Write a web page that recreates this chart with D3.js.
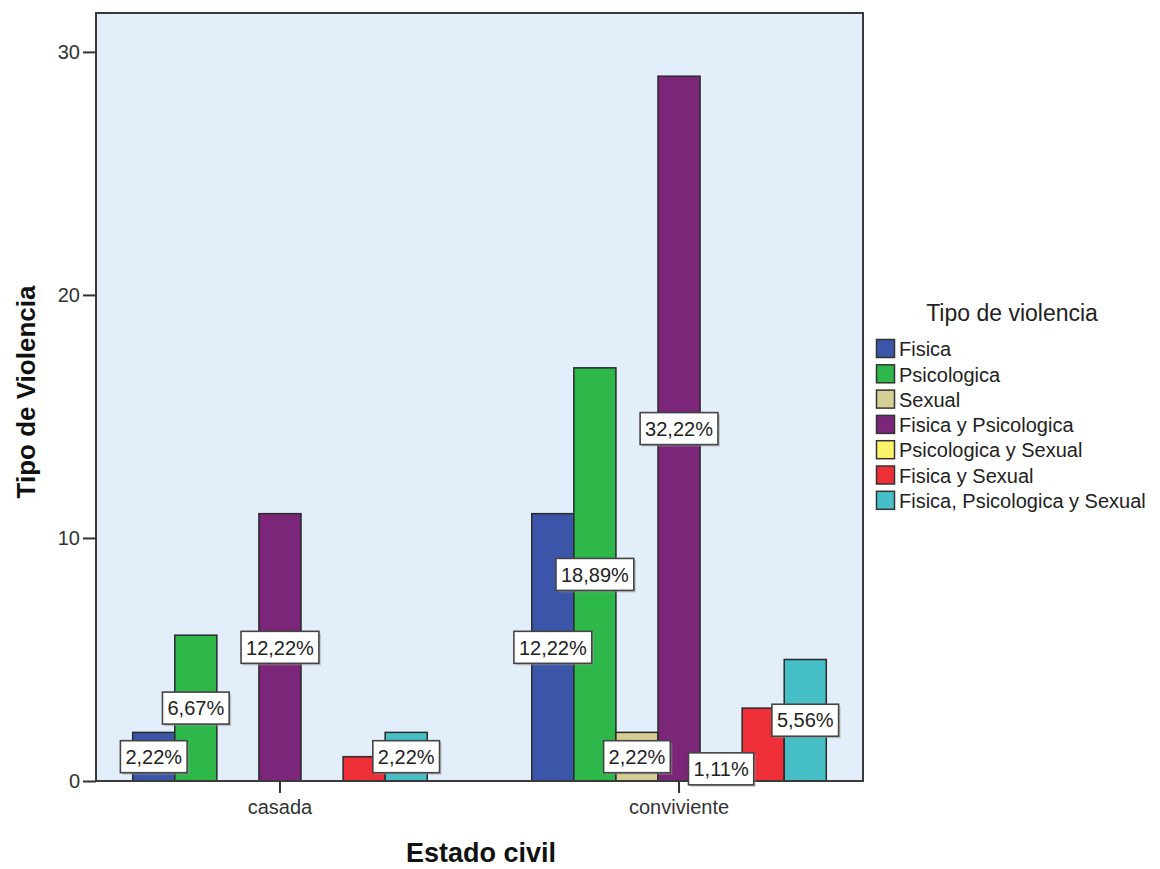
<!DOCTYPE html>
<html>
<head>
<meta charset="utf-8">
<script src="https://cdn.jsdelivr.net/npm/d3@7"></script>
<style>
  html, body { margin: 0; padding: 0; background: #ffffff; }
  svg { display: block; font-family: "Liberation Sans", Arial, sans-serif; }
</style>
</head>
<body>
<svg id="chart" width="1160" height="869"></svg>
<script>
// Marital status groups along the x axis
const categories = ["casada", "conviviente"];

// Violence types (legend order)
const series = [
  "Fisica",
  "Psicologica",
  "Sexual",
  "Fisica y Psicologica",
  "Psicologica y Sexual",
  "Fisica y Sexual",
  "Fisica, Psicologica y Sexual"
];

// Counts per violence type, one array per marital status
const casadaValues      = [2, 6, 0, 11, 0, 1, 2];
const convivienteValues = [11, 17, 2, 29, 1, 3, 5];

// Percentage labels printed inside the bars (null = no label shown)
const casadaLabels      = ["2,22%", "6,67%", null, "12,22%", null, null, "2,22%"];
const convivienteLabels = ["12,22%", "18,89%", "2,22%", "32,22%", "1,11%", null, "5,56%"];

// Y axis ticks
const yTicks = [0, 10, 20, 30];

const colors = ["#3b56a9", "#2fb84a", "#d6cf95", "#7b2679", "#fbf46b", "#ee2f37", "#47bfc6"];

const valuesByCat = [casadaValues, convivienteValues];
const labelsByCat = [casadaLabels, convivienteLabels];

const svg = d3.select("#chart");

const plot = { left: 96, right: 863, top: 13, bottom: 781 };

const x0 = d3.scaleBand()
  .domain(categories)
  .range([plot.left, plot.right])
  .paddingInner(0.262)
  .paddingOuter(0.092);

const x1 = d3.scaleBand()
  .domain(series)
  .range([0, x0.bandwidth()]);

const y = d3.scaleLinear()
  .domain([0, 31.6])
  .range([plot.bottom, plot.top]);

const color = d3.scaleOrdinal().domain(series).range(colors);

// Plot background
svg.append("rect")
  .attr("x", plot.left).attr("y", plot.top)
  .attr("width", plot.right - plot.left)
  .attr("height", plot.bottom - plot.top)
  .attr("fill", "#e2eefa");

// Bars
const rows = [];
categories.forEach((c, ci) => {
  series.forEach((s, si) => {
    rows.push({ cat: c, ser: s, value: valuesByCat[ci][si], label: labelsByCat[ci][si] });
  });
});

svg.append("g")
  .selectAll("rect")
  .data(rows.filter(d => d.value > 0))
  .join("rect")
  .attr("x", d => x0(d.cat) + x1(d.ser))
  .attr("y", d => y(d.value))
  .attr("width", x1.bandwidth())
  .attr("height", d => y(0) - y(d.value))
  .attr("fill", d => color(d.ser))
  .attr("stroke", "#2a2a2a")
  .attr("stroke-width", 1.5);

// Frame around plot area
svg.append("rect")
  .attr("x", plot.left).attr("y", plot.top)
  .attr("width", plot.right - plot.left)
  .attr("height", plot.bottom - plot.top)
  .attr("fill", "none")
  .attr("stroke", "#3a3a3a")
  .attr("stroke-width", 2);

// Y axis
const yAxis = svg.append("g")
  .attr("transform", `translate(${plot.left},0)`)
  .call(d3.axisLeft(y).tickValues(yTicks).tickSize(13).tickPadding(3).tickFormat(d3.format("d")));
yAxis.select(".domain").remove();
yAxis.selectAll(".tick line").attr("stroke", "#333").attr("stroke-width", 2);
yAxis.selectAll(".tick text")
  .attr("fill", "#333")
  .style("font-size", "20px")
  .style("font-family", "Liberation Sans, Arial, sans-serif");

// X axis
const xAxis = svg.append("g")
  .attr("transform", `translate(0,${plot.bottom})`)
  .call(d3.axisBottom(x0).tickSize(12).tickPadding(7));
xAxis.select(".domain").remove();
xAxis.selectAll(".tick line").attr("stroke", "#333").attr("stroke-width", 2);
xAxis.selectAll(".tick text")
  .attr("fill", "#333")
  .style("font-size", "20px")
  .style("font-family", "Liberation Sans, Arial, sans-serif");

// Percentage label boxes
const labelG = svg.append("g")
  .selectAll("g")
  .data(rows.filter(d => d.label))
  .join("g")
  .attr("transform", d => `translate(${x0(d.cat) + x1(d.ser) + x1.bandwidth() / 2},${y(d.value / 2)})`);

labelG.each(function(d) {
  const g = d3.select(this);
  const shadow = g.append("rect");
  const box = g.append("rect");
  const t = g.append("text")
    .attr("text-anchor", "middle")
    .attr("dy", "0.36em")
    .attr("fill", "#222")
    .style("font-size", "20px")
    .text(d.label);
  const w = t.node().getComputedTextLength() + 10;
  const h = 32;
  shadow.attr("x", -w / 2 + 2).attr("y", -h / 2 + 2)
    .attr("width", w).attr("height", h)
    .attr("fill", "#9a9a9a").attr("opacity", 0.5);
  box.attr("x", -w / 2).attr("y", -h / 2)
    .attr("width", w).attr("height", h)
    .attr("fill", "#ffffff")
    .attr("stroke", "#444")
    .attr("stroke-width", 1.6);
});

// Axis titles
svg.append("text")
  .attr("transform", "translate(35,392) rotate(-90)")
  .attr("text-anchor", "middle")
  .attr("fill", "#111")
  .style("font-size", "26px")
  .style("font-weight", "bold")
  .text("Tipo de Violencia");

svg.append("text")
  .attr("x", 481)
  .attr("y", 862)
  .attr("text-anchor", "middle")
  .attr("fill", "#111")
  .style("font-size", "27px")
  .style("font-weight", "bold")
  .text("Estado civil");

// Legend
const legend = svg.append("g").attr("transform", "translate(876,339)");
legend.append("text")
  .attr("x", 136)
  .attr("y", -18)
  .attr("text-anchor", "middle")
  .attr("fill", "#222")
  .style("font-size", "23px")
  .text("Tipo de violencia");

const item = legend.selectAll("g.item")
  .data(series)
  .join("g")
  .attr("class", "item")
  .attr("transform", (d, i) => `translate(0,${i * 25.3})`);

item.append("rect")
  .attr("x", 0.5).attr("y", 0.5)
  .attr("width", 18).attr("height", 18)
  .attr("fill", d => color(d))
  .attr("stroke", "#333")
  .attr("stroke-width", 1.5);

item.append("text")
  .attr("x", 23)
  .attr("y", 10)
  .attr("dy", "0.36em")
  .attr("fill", "#222")
  .style("font-size", "20px")
  .text(d => d);
</script>
</body>
</html>
